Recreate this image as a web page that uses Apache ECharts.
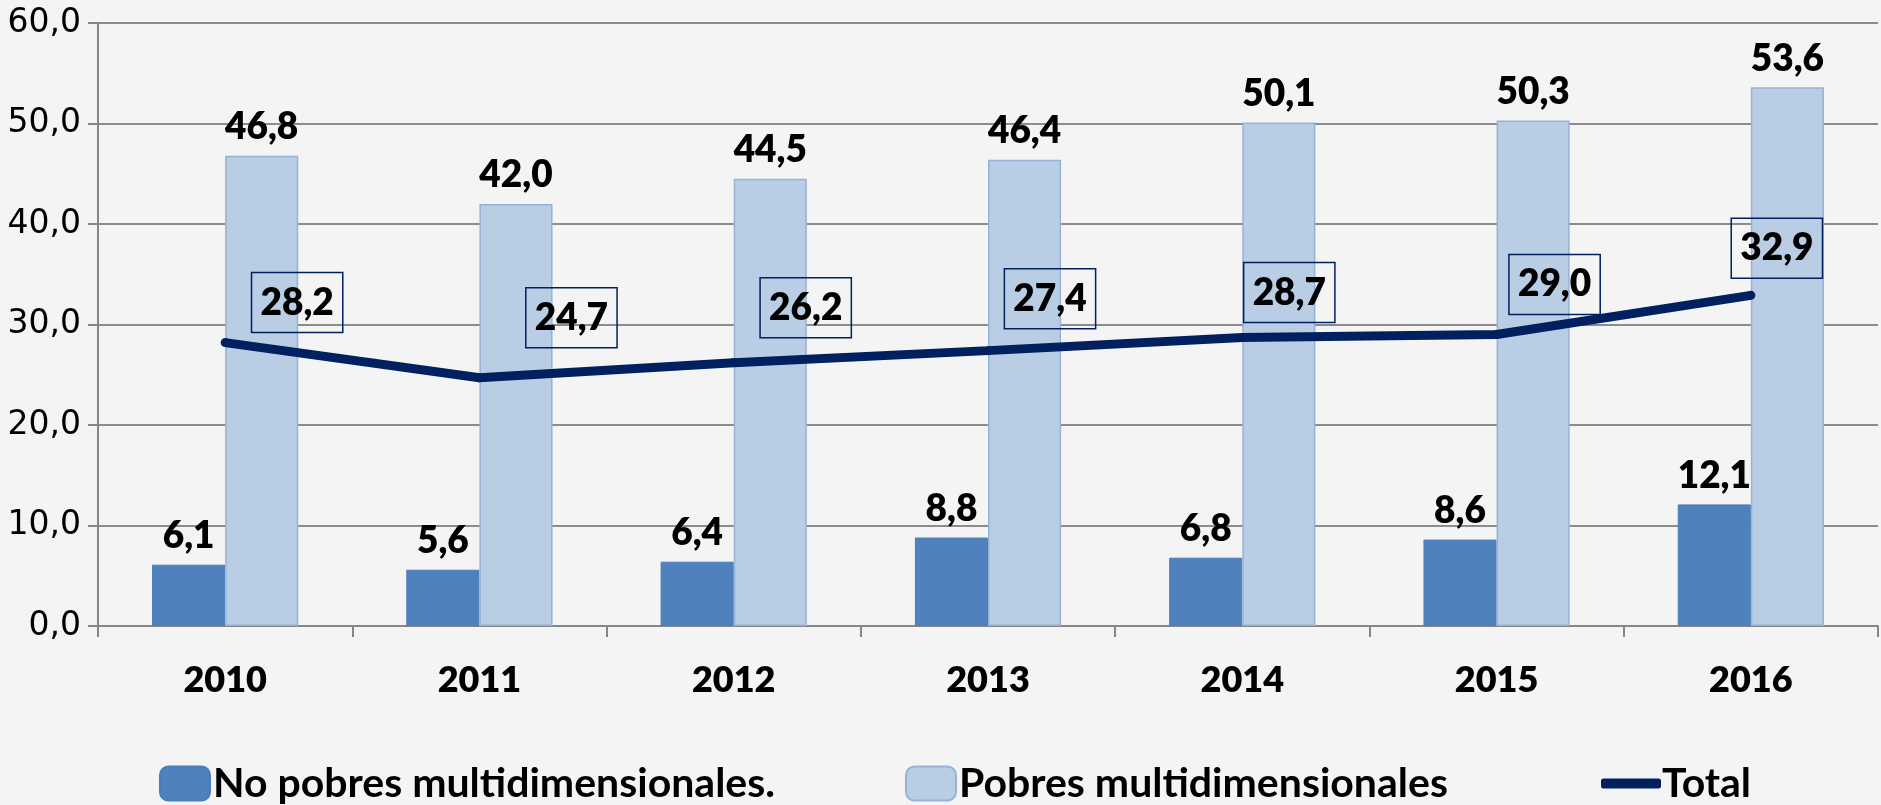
<!DOCTYPE html>
<html>
<head>
<meta charset="utf-8">
<script src="https://cdn.jsdelivr.net/npm/echarts@6/dist/echarts.min.js"></script>
<style>
    html, body {
        margin: 0;
        padding: 0;
        background: #f4f4f4;
    }

    #main {
        width: 1881px;
        height: 805px;
    }
</style>
</head>
<body>
<div id="main"></div>
<script>
    var years = ['2010', '2011', '2012', '2013', '2014', '2015', '2016'];
    var noPobres = [6.1, 5.6, 6.4, 8.8, 6.8, 8.6, 12.1];
    var pobres = [46.8, 42.0, 44.5, 46.4, 50.1, 50.3, 53.6];
    var total = [28.2, 24.7, 26.2, 27.4, 28.7, 29.0, 32.9];
    var yTicks = [0, 10, 20, 30, 40, 50, 60];

    // where the boxed labels of the line sit, relative to each point
    var boxOffsets = [[72, -40], [92, -60], [72, -55], [62, -52], [47, -45], [58, -50], [26, -47]];

    var labelFont = 'Lato, "Noto Sans", sans-serif';

    function coma(v) {
        return v.toFixed(1).replace('.', ',');
    }

    var totalData = [];
    for (var i = 0; i < total.length; i++) {
        totalData.push({
            value: total[i],
            label: {offset: boxOffsets[i]}
        });
    }

    var legendText = {fontFamily: labelFont, fontWeight: 'bold', fontSize: 41, color: '#000'};

    var myChart = echarts.init(document.getElementById('main'));
    var option = {
        backgroundColor: '#f4f4f4',
        animation: false,
        grid: {
            left: 98,
            right: 3,
            top: 23,
            bottom: 179
        },
        legend: [
            {
                left: 154,
                top: 758,
                itemWidth: 50,
                itemHeight: 34,
                itemGap: 0,
                textStyle: Object.assign({padding: [0, 0, 0, -2]}, legendText),
                data: ['No pobres multidimensionales.']
            },
            {
                left: 900,
                top: 758,
                itemWidth: 50,
                itemHeight: 34,
                textStyle: Object.assign({padding: [0, 0, 0, -2]}, legendText),
                data: ['Pobres multidimensionales']
            },
            {
                left: 1596,
                top: 758,
                itemWidth: 60,
                itemHeight: 10,
                textStyle: Object.assign({padding: [0, 0, 0, -4]}, legendText),
                data: [{name: 'Total', icon: 'roundRect'}]
            }
        ],
        xAxis: {
            type: 'category',
            data: years,
            axisLine: {lineStyle: {color: '#868686', width: 2}},
            axisTick: {show: true, length: 11, lineStyle: {color: '#868686', width: 2}},
            axisLabel: {
                margin: 36,
                fontFamily: labelFont,
                fontWeight: 800,
                fontSize: 36,
                color: '#000'
            }
        },
        yAxis: {
            type: 'value',
            min: yTicks[0],
            max: yTicks[yTicks.length - 1],
            interval: 10,
            axisLine: {show: true, lineStyle: {color: '#868686', width: 2}},
            axisTick: {show: true, length: 10, lineStyle: {color: '#868686', width: 2}},
            splitLine: {lineStyle: {color: '#8c8c8c', width: 2}},
            axisLabel: {
                margin: 17,
                fontFamily: '"DejaVu Sans", Verdana, sans-serif',
                fontSize: 33,
                color: '#000',
                formatter: function (v) {
                    return coma(v);
                }
            }
        },
        series: [
            {
                name: 'No pobres multidimensionales.',
                type: 'bar',
                data: noPobres,
                barGap: '0%',
                barCategoryGap: '42.5%',
                itemStyle: {color: '#4f81bd', borderColor: '#4a7dba', borderWidth: 1},
                label: {
                    show: true,
                    position: 'top',
                    distance: 10,
                    fontFamily: labelFont,
                    fontWeight: 800,
                    fontSize: 37,
                    color: '#000',
                    formatter: function (p) {
                        return coma(p.value);
                    }
                }
            },
            {
                name: 'Pobres multidimensionales',
                type: 'bar',
                data: pobres,
                itemStyle: {color: '#b9cde5', borderColor: '#95b3d7', borderWidth: 1.5},
                label: {
                    show: true,
                    position: 'top',
                    distance: 10,
                    fontFamily: labelFont,
                    fontWeight: 800,
                    fontSize: 37,
                    color: '#000',
                    formatter: function (p) {
                        return coma(p.value);
                    }
                }
            },
            {
                name: 'Total',
                type: 'line',
                data: totalData,
                symbol: 'circle',
                symbolSize: 9,
                itemStyle: {color: '#002060'},
                lineStyle: {color: '#002060', width: 9},
                z: 5,
                label: {
                    show: true,
                    position: 'inside',
                    fontFamily: labelFont,
                    fontWeight: 800,
                    fontSize: 37,
                    lineHeight: 40,
                    color: '#000',
                    borderColor: '#002060',
                    borderWidth: 1.5,
                    padding: [10, 9, 10, 9],
                    formatter: function (p) {
                        return coma(p.value);
                    }
                }
            }
        ]
    };
    myChart.setOption(option);
</script>
</body>
</html>
